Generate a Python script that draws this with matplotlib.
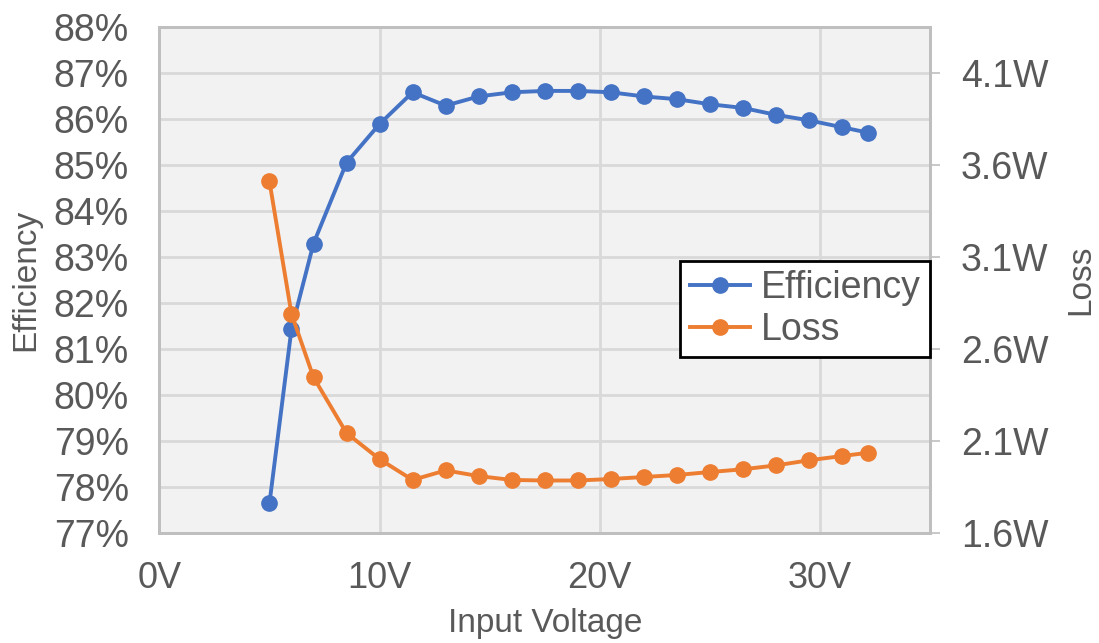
import matplotlib.pyplot as plt
from matplotlib.ticker import FuncFormatter, MultipleLocator

plt.rcParams['font.family'] = ['Liberation Sans', 'DejaVu Sans']

# input voltage (V), efficiency (%) and power loss (W)
vin = [5, 6, 7, 8.5, 10, 11.5, 13, 14.5, 16, 17.5, 19, 20.5, 22, 23.5, 25,
       26.5, 28, 29.5, 31, 32.2]
efficiency = [77.64, 81.43, 83.29, 85.05, 85.89, 86.58, 86.29, 86.49, 86.58,
              86.61, 86.61, 86.58, 86.49, 86.43, 86.32, 86.24, 86.09, 85.97,
              85.82, 85.70]
loss = [3.51, 2.79, 2.445, 2.142, 2.00, 1.887, 1.939, 1.908, 1.887, 1.884,
        1.884, 1.892, 1.903, 1.914, 1.930, 1.945, 1.966, 1.994, 2.017, 2.035]

blue = '#4472C4'
orange = '#ED7D31'
txt = '#595959'
edge = '#BFBFBF'

fig = plt.figure(figsize=(10.99, 6.43), dpi=100)
ax = fig.add_axes([0.145, 0.1715, 0.7013, 0.7865])
ax2 = ax.twinx()

ax.set_facecolor('#F2F2F2')
ax.grid(True, color='#D9D9D9', linewidth=2)
ax.set_axisbelow(True)

l1, = ax.plot(vin, efficiency, color=blue, lw=2.8, marker='o', ms=11,
              label='Efficiency')
l2, = ax2.plot(vin, loss, color=orange, lw=2.8, marker='o', ms=11,
               label='Loss')

ax.set_xlim(0, 35)
ax.set_ylim(77, 88)
ax2.set_ylim(1.6, 4.35)

ax.xaxis.set_major_locator(MultipleLocator(10))
ax.yaxis.set_major_locator(MultipleLocator(1))
ax2.set_yticks([1.6, 2.1, 2.6, 3.1, 3.6, 4.1])

ax.xaxis.set_major_formatter(FuncFormatter(lambda v, p: '%dV' % v))
ax.yaxis.set_major_formatter(FuncFormatter(lambda v, p: '%d%%' % round(v)))
ax2.yaxis.set_major_formatter(FuncFormatter(lambda v, p: '%.1fW' % v))

ax.tick_params(axis='x', length=0, pad=20, labelsize=26, labelcolor=txt)
ax.tick_params(axis='y', length=0, pad=22, labelsize=27, labelcolor=txt)
ax2.tick_params(axis='y', length=7, width=1.2, color=edge, pad=15,
                labelsize=27, labelcolor=txt)

for a in (ax, ax2):
    for s in a.spines.values():
        s.set_color(edge)
        s.set_linewidth(2)

ax.set_xlabel('Input Voltage', fontsize=24, color=txt)
ax.set_ylabel('Efficiency', fontsize=24, color=txt)
ax2.set_ylabel('Loss', fontsize=24, color=txt)
ax.xaxis.set_label_coords(0.5, -0.148)
ax.yaxis.set_label_coords(-0.153, 0.5)
ax2.yaxis.set_label_coords(1.176, 0.5)

leg = ax2.legend([l1, l2], ['Efficiency', 'Loss'], loc='lower right',
                 bbox_to_anchor=(1.0, 0.347), borderaxespad=0, fontsize=27,
                 fancybox=False, framealpha=1, edgecolor='black',
                 handlelength=1.6, handletextpad=0.3, labelspacing=0.15,
                 borderpad=0.25)
leg.get_frame().set_linewidth(2)
for t in leg.get_texts():
    t.set_color(txt)

fig.savefig('out.png', dpi=100)
